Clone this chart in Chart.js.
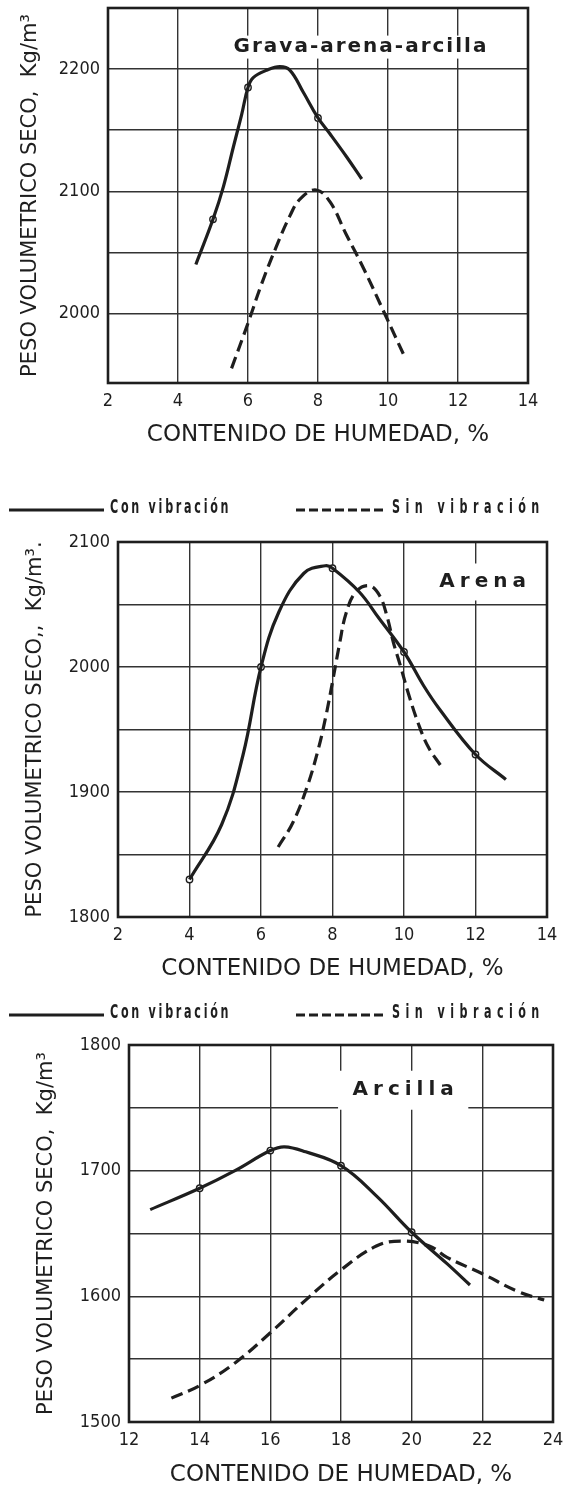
<!DOCTYPE html>
<html lang="es">
<head>
<meta charset="UTF-8">
<title>Peso volumétrico seco y contenido de humedad</title>
<script src="https://cdn.jsdelivr.net/npm/chart.js@4.4.1/dist/chart.umd.min.js"></script>
<style>
  body { margin: 0; background: #fff; width: 571px; height: 1492px; position: relative; overflow: hidden; }
  .caja { position: absolute; left: 0; width: 571px; }
</style>
</head>
<body>

<div class="caja" style="top:0;height:460px"><canvas id="grafGrava"></canvas></div>
<div class="caja" style="top:490px;height:500px"><canvas id="grafArena"></canvas></div>
<div class="caja" style="top:995px;height:497px"><canvas id="grafArcilla"></canvas></div>

<script>
// --- datos ---
const serieCon = 'Con vibración';
const serieSin = 'Sin vibración';
const tituloX = 'CONTENIDO DE HUMEDAD, %';

// Grava-arena-arcilla
const gravaConX = [4.51, 5, 5.3, 5.58, 5.82, 6, 6.15, 6.53, 6.91, 7.2, 7.58, 8, 8.34, 8.82, 9.25];
const gravaConY = [2040, 2077, 2104, 2136, 2163, 2185, 2193, 2199, 2202, 2199, 2181, 2160, 2147, 2128, 2110];
const gravaSinX = [5.53, 6, 6.4, 6.8, 7.2, 7.5, 7.95, 8.35, 8.8, 9.3, 9.95, 10.5];
const gravaSinY = [1955, 1992, 2025, 2054, 2080, 2094, 2101, 2091, 2065, 2037, 1997, 1963];
const gravaPuntosX = [5, 6, 8];
const gravaPuntosY = [2077, 2185, 2160];
const gravaTicksX = [2, 4, 6, 8, 10, 12, 14];
const gravaRejillaY = [2000, 2050, 2100, 2150, 2200];
const gravaEtiquetasY = [2000, 2100, 2200];

// Arena
const arenaConX = [4, 4.9, 5.5, 6, 6.5, 7.2, 7.8, 8, 8.75, 9.3, 10, 10.55, 11, 12, 12.85];
const arenaConY = [1830, 1874, 1930, 2000, 2044, 2075, 2081, 2079, 2060, 2039, 2012, 1985, 1966, 1930, 1910];
const arenaSinX = [6.48, 6.9, 7.3, 7.6, 7.81, 8.0, 8.2, 8.38, 8.65, 9.03, 9.32, 9.53, 9.7, 9.91, 10.12, 10.41, 10.68, 11.03];
const arenaSinY = [1856, 1876, 1905, 1934, 1960, 1988, 2019, 2043, 2060, 2065, 2057, 2040, 2020, 2000, 1979, 1954, 1936, 1921];
const arenaPuntosX = [4, 6, 8, 10, 12];
const arenaPuntosY = [1830, 2000, 2079, 2012, 1930];
const arenaTicksX = [2, 4, 6, 8, 10, 12, 14];
const arenaRejillaY = [1850, 1900, 1950, 2000, 2050];
const arenaEtiquetasY = [1800, 1900, 2000, 2100];

// Arcilla
const arcillaConX = [12.6, 14, 15, 16, 16.4, 17, 18, 19, 20, 21, 21.65];
const arcillaConY = [1669, 1686, 1700, 1716, 1719, 1715, 1704, 1680, 1651, 1626, 1609];
const arcillaSinX = [13.2, 14, 15, 16, 17, 18, 19, 19.7, 20.5, 21, 22, 23, 23.75];
const arcillaSinY = [1519, 1529, 1547, 1571, 1597, 1621, 1640, 1644, 1640, 1631, 1618, 1604, 1597];
const arcillaPuntosX = [14, 16, 18, 20];
const arcillaPuntosY = [1686, 1716, 1704, 1651];
const arcillaTicksX = [12, 14, 16, 18, 20, 22, 24];
const arcillaRejillaY = [1550, 1600, 1650, 1700, 1750];
const arcillaEtiquetasY = [1500, 1600, 1700, 1800];

// --- estilo ---
const FUENTE = '"DejaVu Sans Condensed", "DejaVu Sans", sans-serif';
const TINTA = '#1e1e1e';
Chart.defaults.font.family = FUENTE;
Chart.defaults.color = TINTA;

const puntos = (xs, ys) => xs.map((x, i) => ({ x: x, y: ys[i] }));

// marco completo, rotulo con fondo blanco y leyenda encima del grafico
const marco = {
  id: 'marco',
  beforeDatasetsDraw(chart, args, opts) {
    const { ctx } = chart;
    const r = opts.rotulo;
    const px = chart.scales.x.getPixelForValue(r.x);
    const py = chart.scales.y.getPixelForValue(r.y);
    ctx.save();
    ctx.font = r.font;
    ctx.letterSpacing = r.espacio + 'px';
    const w = ctx.measureText(r.texto).width;
    ctx.fillStyle = '#fff';
    ctx.fillRect(px - w / 2 - r.margen, py - r.alto / 2, w + 2 * r.margen, r.alto);
    ctx.fillStyle = TINTA;
    ctx.textAlign = 'center';
    ctx.textBaseline = 'middle';
    ctx.fillText(r.texto, px + r.espacio / 2, py);
    ctx.restore();
  },
  afterDraw(chart, args, opts) {
    const { ctx, chartArea: a } = chart;
    ctx.save();
    ctx.strokeStyle = TINTA;
    ctx.lineWidth = 2.6;
    ctx.strokeRect(a.left, a.top, a.right - a.left, a.bottom - a.top);

    const ley = opts.leyenda;
    if (ley) {
      const ds = chart.data.datasets;
      ley.items.forEach((it, i) => {
        ctx.beginPath();
        ctx.lineWidth = 3;
        ctx.setLineDash(ds[i].borderDash ? [9, 4] : []);
        ctx.moveTo(it.x0, ley.y);
        ctx.lineTo(it.x1, ley.y);
        ctx.stroke();
        ctx.setLineDash([]);
        ctx.save();
        ctx.translate(it.x1 + 6, ley.y + 3);
        ctx.scale(0.62, 1);
        ctx.font = 'bold 20px ' + FUENTE;
        ctx.letterSpacing = it.espacio + 'px';
        ctx.fillStyle = TINTA;
        ctx.textBaseline = 'alphabetic';
        ctx.fillText(ds[i].label, 0, 0);
        ctx.restore();
      });
    }
    ctx.restore();
  }
};

function crearGrafico(id, cfg) {
  return new Chart(document.getElementById(id), {
    type: 'line',
    data: {
      datasets: [
        { label: serieCon, data: puntos(cfg.conX, cfg.conY), borderColor: TINTA, borderWidth: 3.2,
          pointRadius: 0, tension: 0.4, fill: false },
        { label: serieSin, data: puntos(cfg.sinX, cfg.sinY), borderColor: TINTA, borderWidth: 3.2,
          borderDash: [12, 6], pointRadius: 0, tension: 0.4, fill: false },
        { type: 'scatter', label: 'ensayos', data: puntos(cfg.ptsX, cfg.ptsY), pointRadius: 3.2,
          pointBackgroundColor: '#fff', pointBorderColor: TINTA, pointBorderWidth: 1.4 }
      ]
    },
    options: {
      responsive: true,
      maintainAspectRatio: false,
      animation: false,
      events: [],
      layout: { padding: { top: cfg.arriba, right: cfg.derecha, left: 0, bottom: 0 } },
      plugins: {
        legend: { display: false },
        tooltip: { enabled: false },
        marco: { rotulo: cfg.rotulo, leyenda: cfg.leyenda }
      },
      scales: {
        x: {
          type: 'linear',
          min: cfg.ticksX[0],
          max: cfg.ticksX[cfg.ticksX.length - 1],
          afterBuildTicks: s => { s.ticks = cfg.ticksX.map(v => ({ value: v })); },
          afterFit: s => { s.height = cfg.altoX; s.paddingLeft = s.paddingRight = 0; },
          grid: { color: '#333', lineWidth: 1.4, drawTicks: false },
          border: { display: false },
          ticks: { padding: 8, font: { size: 18 }, color: TINTA, maxRotation: 0, autoSkip: false },
          title: { display: true, text: tituloX, color: TINTA,
                   font: { family: '"DejaVu Sans", sans-serif', size: 23, lineHeight: 1 },
                   padding: { top: 0, bottom: cfg.tituloXabajo } }
        },
        y: {
          type: 'linear',
          min: cfg.minY,
          max: cfg.maxY,
          afterBuildTicks: s => { s.ticks = cfg.etiquetasY.concat(cfg.rejillaY)
                                             .filter((v, i, arr) => arr.indexOf(v) === i)
                                             .sort((a, b) => a - b).map(v => ({ value: v })); },
          afterFit: s => { s.width = cfg.anchoY; s.paddingTop = s.paddingBottom = 0; },
          grid: { color: '#333', lineWidth: 1.4, drawTicks: false },
          border: { display: false },
          ticks: { padding: 8, font: { size: 18 }, color: TINTA, autoSkip: false,
                   callback: v => cfg.etiquetasY.includes(v) ? String(v) : '' },
          title: { display: true, text: cfg.tituloY, color: TINTA,
                   font: { family: '"DejaVu Sans", sans-serif', size: 21, lineHeight: 1 },
                   padding: { top: cfg.tituloYizq, bottom: 0 } }
        }
      }
    },
    plugins: [marco]
  });
}

const fuenteRotulo = 'bold 20px "DejaVu Sans", sans-serif';
const leyendaItems = [ { x0: 9, x1: 104, espacio: 4.4 }, { x0: 296, x1: 386, espacio: 8.8 } ];

crearGrafico('grafGrava', {
  conX: gravaConX, conY: gravaConY, sinX: gravaSinX, sinY: gravaSinY,
  ptsX: gravaPuntosX, ptsY: gravaPuntosY,
  ticksX: gravaTicksX, rejillaY: gravaRejillaY, etiquetasY: gravaEtiquetasY,
  minY: 1943, maxY: 2250,
  arriba: 8, derecha: 43, altoX: 77, anchoY: 108, tituloXabajo: 13, tituloYizq: 20,
  tituloY: 'PESO VOLUMETRICO SECO,  Kg/m³',
  rotulo: { texto: 'Grava-arena-arcilla', x: 9.2, y: 2218, font: fuenteRotulo,
            espacio: 2, margen: 2, alto: 23 },
  leyenda: null
});

crearGrafico('grafArena', {
  conX: arenaConX, conY: arenaConY, sinX: arenaSinX, sinY: arenaSinY,
  ptsX: arenaPuntosX, ptsY: arenaPuntosY,
  ticksX: arenaTicksX, rejillaY: arenaRejillaY, etiquetasY: arenaEtiquetasY,
  minY: 1800, maxY: 2100,
  arriba: 52, derecha: 24, altoX: 73, anchoY: 118, tituloXabajo: 9, tituloYizq: 25,
  tituloY: 'PESO VOLUMETRICO SECO,,  Kg/m³.',
  rotulo: { texto: 'Arena', x: 12.2, y: 2068, font: fuenteRotulo,
            espacio: 5, margen: 4, alto: 37 },
  leyenda: { y: 20, items: leyendaItems }
});

crearGrafico('grafArcilla', {
  conX: arcillaConX, conY: arcillaConY, sinX: arcillaSinX, sinY: arcillaSinY,
  ptsX: arcillaPuntosX, ptsY: arcillaPuntosY,
  ticksX: arcillaTicksX, rejillaY: arcillaRejillaY, etiquetasY: arcillaEtiquetasY,
  minY: 1500, maxY: 1800,
  arriba: 50, derecha: 18, altoX: 70, anchoY: 129, tituloXabajo: 5, tituloYizq: 36,
  tituloY: 'PESO VOLUMETRICO SECO,  Kg/m³',
  rotulo: { texto: 'Arcilla', x: 19.76, y: 1764, font: fuenteRotulo,
            espacio: 5, margen: 12, alto: 39 },
  leyenda: { y: 20, items: leyendaItems }
});
</script>
</body>
</html>
